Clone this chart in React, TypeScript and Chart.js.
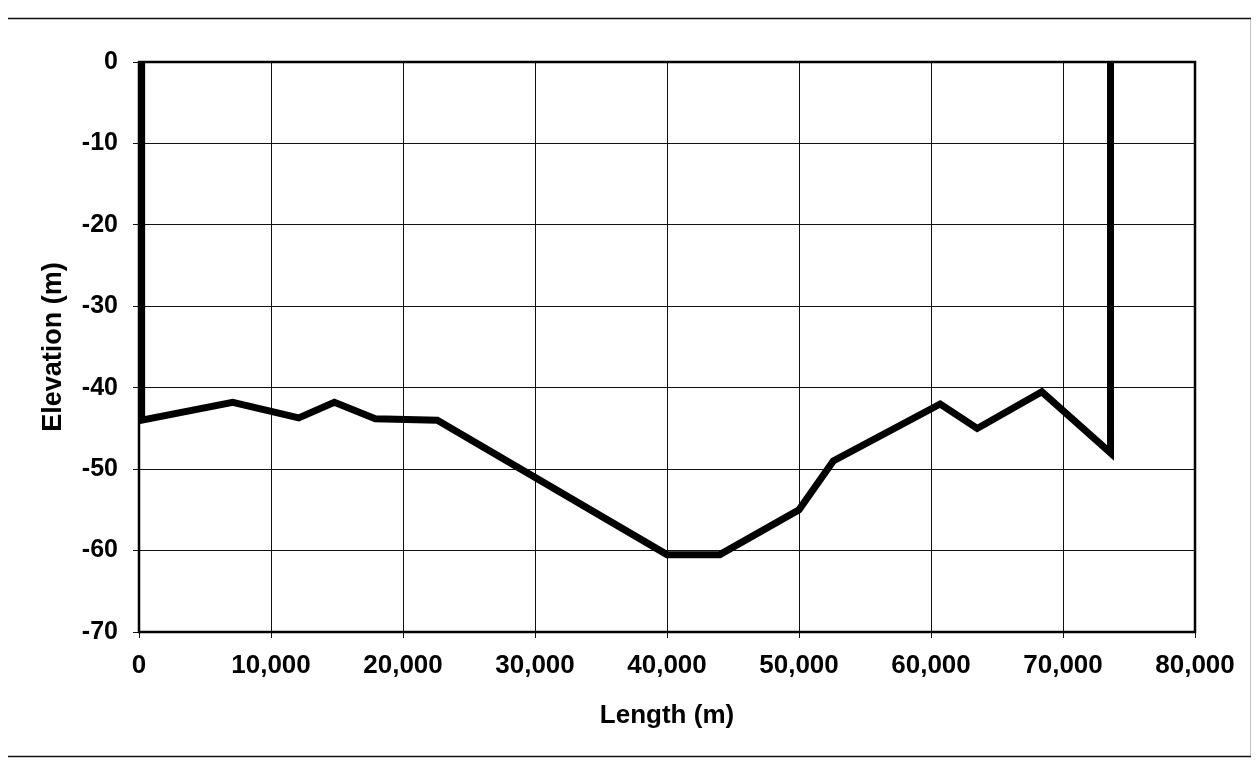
import React, { useEffect, useRef } from "react";
import { Chart, registerables } from "chart.js";

Chart.register(...registerables);

const lengths = [200, 200, 7100, 12100, 14800, 17900, 22600, 40000, 44000, 50000, 52600, 60700, 63500, 68400, 73600, 73600];
const elevations = [0, -44, -41.8, -43.7, -41.8, -43.8, -44, -60.5, -60.5, -55, -49, -42, -45, -40.5, -48, 0];
const xTicks = [0, 10000, 20000, 30000, 40000, 50000, 60000, 70000, 80000];
const yTicks = [0, -10, -20, -30, -40, -50, -60, -70];
const xTitle = "Length (m)";
const yTitle = "Elevation (m)";

const FONT = "'Liberation Sans', Arial, sans-serif";

const frame = {
  id: "frame",
  beforeDraw(chart: any) {
    const { ctx } = chart;
    ctx.save();
    ctx.strokeStyle = "#111";
    ctx.lineWidth = 1.5;
    ctx.strokeRect(5.5, 18.5, 1246, 738);
    ctx.restore();
  },
  beforeDatasetsDraw(chart: any) {
    const { ctx, chartArea } = chart;
    ctx.save();
    ctx.strokeStyle = "#000";
    ctx.lineWidth = 2.5;
    ctx.strokeRect(chartArea.left, chartArea.top, chartArea.right - chartArea.left, chartArea.bottom - chartArea.top);
    ctx.restore();
  },
};

export default function App() {
  const ref = useRef<HTMLCanvasElement>(null);
  useEffect(() => {
    if (!ref.current) return;
    const chart = new Chart(ref.current, {
      type: "line",
      data: {
        datasets: [
          {
            data: lengths.map((x, i) => ({ x, y: elevations[i] })),
            borderColor: "#000",
            borderWidth: 7,
            pointRadius: 0,
            tension: 0,
            borderJoinStyle: "miter",
            fill: false,
          },
        ],
      },
      options: {
        animation: false,
        responsive: false,
        maintainAspectRatio: false,
        layout: { padding: { left: 0, right: 64, top: 62, bottom: 28 } },
        plugins: { legend: { display: false }, tooltip: { enabled: false } },
        scales: {
          x: {
            type: "linear",
            min: 0,
            max: 80000,
            afterBuildTicks: (s: any) => {
              s.ticks = xTicks.map((v) => ({ value: v }));
            },
            afterFit: (s: any) => {
              s.height = 109;
              s.paddingLeft = 0;
              s.paddingRight = 0;
            },
            grid: { color: "#111", lineWidth: 1, drawTicks: true, tickLength: 6 },
            border: { display: false },
            ticks: {
              color: "#000",
              padding: 12,
              maxRotation: 0,
              font: { family: FONT, size: 26, weight: "bold" },
              callback: (v: any) => Number(v).toLocaleString("en-US"),
            },
            title: {
              display: true,
              text: xTitle,
              color: "#000",
              font: { family: FONT, size: 26, weight: "bold" },
              padding: { top: 0, bottom: 10 },
            },
          },
          y: {
            type: "linear",
            min: -70,
            max: 0,
            afterBuildTicks: (s: any) => {
              s.ticks = yTicks.map((v) => ({ value: v }));
            },
            afterFit: (s: any) => {
              s.width = 139;
              s.paddingTop = 0;
              s.paddingBottom = 0;
            },
            grid: { color: "#111", lineWidth: 1, drawTicks: true, tickLength: 6 },
            border: { display: false },
            ticks: {
              color: "#000",
              padding: 15,
              font: { family: FONT, size: 25, weight: "bold" },
            },
            title: {
              display: true,
              text: yTitle,
              color: "#000",
              font: { family: FONT, size: 27, weight: "bold" },
              padding: { top: 37, bottom: 0 },
            },
          },
        },
      } as any,
      plugins: [frame],
    });
    return () => chart.destroy();
  }, []);

  return (
    <div style={{ position: "relative", width: 1243, height: 753 }}>
      <canvas
        ref={ref}
        width={1259}
        height={769}
        style={{ position: "absolute", left: -8, top: -8, width: 1259, height: 769 }}
      />
    </div>
  );
}
